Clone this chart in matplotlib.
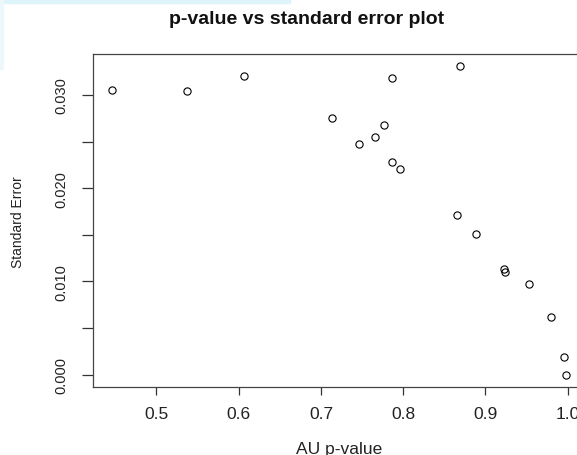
import matplotlib
matplotlib.use('Agg')
import matplotlib.pyplot as plt
from matplotlib.patches import Rectangle

# AU p-value vs standard error
au_pvalue = [0.4455, 0.5372, 0.6062, 0.7129, 0.7466, 0.7658, 0.7767, 0.7868,
             0.7864, 0.7961, 0.8689, 0.8652, 0.8882, 0.9222, 0.9242, 0.9525,
             0.9796, 0.9953, 0.9982]
std_error = [0.03057, 0.03043, 0.03204, 0.02750, 0.02475, 0.02547, 0.02682, 0.03186,
             0.02282, 0.02207, 0.03311, 0.01711, 0.01511, 0.01133, 0.01100, 0.00975,
             0.00614, 0.00185, 0.00000]

x_ticks = [0.5, 0.6, 0.7, 0.8, 0.9, 1.0]
y_ticks = [0.000, 0.005, 0.010, 0.015, 0.020, 0.025, 0.030]
y_labels = ['0.000', '', '0.010', '', '0.020', '', '0.030']

plt.rcParams['font.family'] = ['Liberation Sans', 'DejaVu Sans']

W, H = 577, 456
fig = plt.figure(figsize=(W / 100, H / 100), dpi=100)

# faint screenshot residue at the top / left edges
fig.patches.append(Rectangle((0, 1 - 4 / H), 290 / W, 4 / H, transform=fig.transFigure,
                             color='#dcf4fa', zorder=0))
fig.patches.append(Rectangle((0, 1 - 70 / H), 3 / W, 70 / H, transform=fig.transFigure,
                             color='#eef8fa', zorder=0))

# plot box runs past the right edge of the picture (cropped)
ax = fig.add_axes([93 / W, 68 / H, 493 / W, 333.3 / H])
ax.plot(au_pvalue, std_error, linestyle='none', marker='o', markersize=5.2,
        markerfacecolor='none', markeredgecolor='black', markeredgewidth=0.8)

ax.set_xlim(0.4228, 1.0223)
ax.set_ylim(-0.00132, 0.03443)
ax.set_xticks(x_ticks)
ax.set_xticklabels([f'{v:.1f}' for v in x_ticks], fontsize=12.5, color='#222222')
ax.set_yticks(y_ticks)
ax.set_yticklabels(y_labels, rotation=90, va='center', fontsize=10.5, color='#222222')
ax.tick_params(axis='x', direction='out', length=5.8, width=0.9, pad=8, color='#333333')
ax.tick_params(axis='y', direction='out', length=7.9, width=0.9, pad=10, color='#333333')
for s in ax.spines.values():
    s.set_color('#444444')
    s.set_linewidth(0.9)

fig.text(307 / W, 1 - 20 / H, 'p-value vs standard error plot', ha='center', va='center',
         fontsize=14, fontweight='bold', color='#111111')
fig.text(339 / W, 1 - 450 / H, 'AU p-value', ha='center', va='center',
         fontsize=12.5, color='#222222')
fig.text(18 / W, 1 - 222 / H, 'Standard Error', ha='center', va='center', rotation=90,
         fontsize=10, color='#222222')

fig.savefig('out.png', dpi=100)
